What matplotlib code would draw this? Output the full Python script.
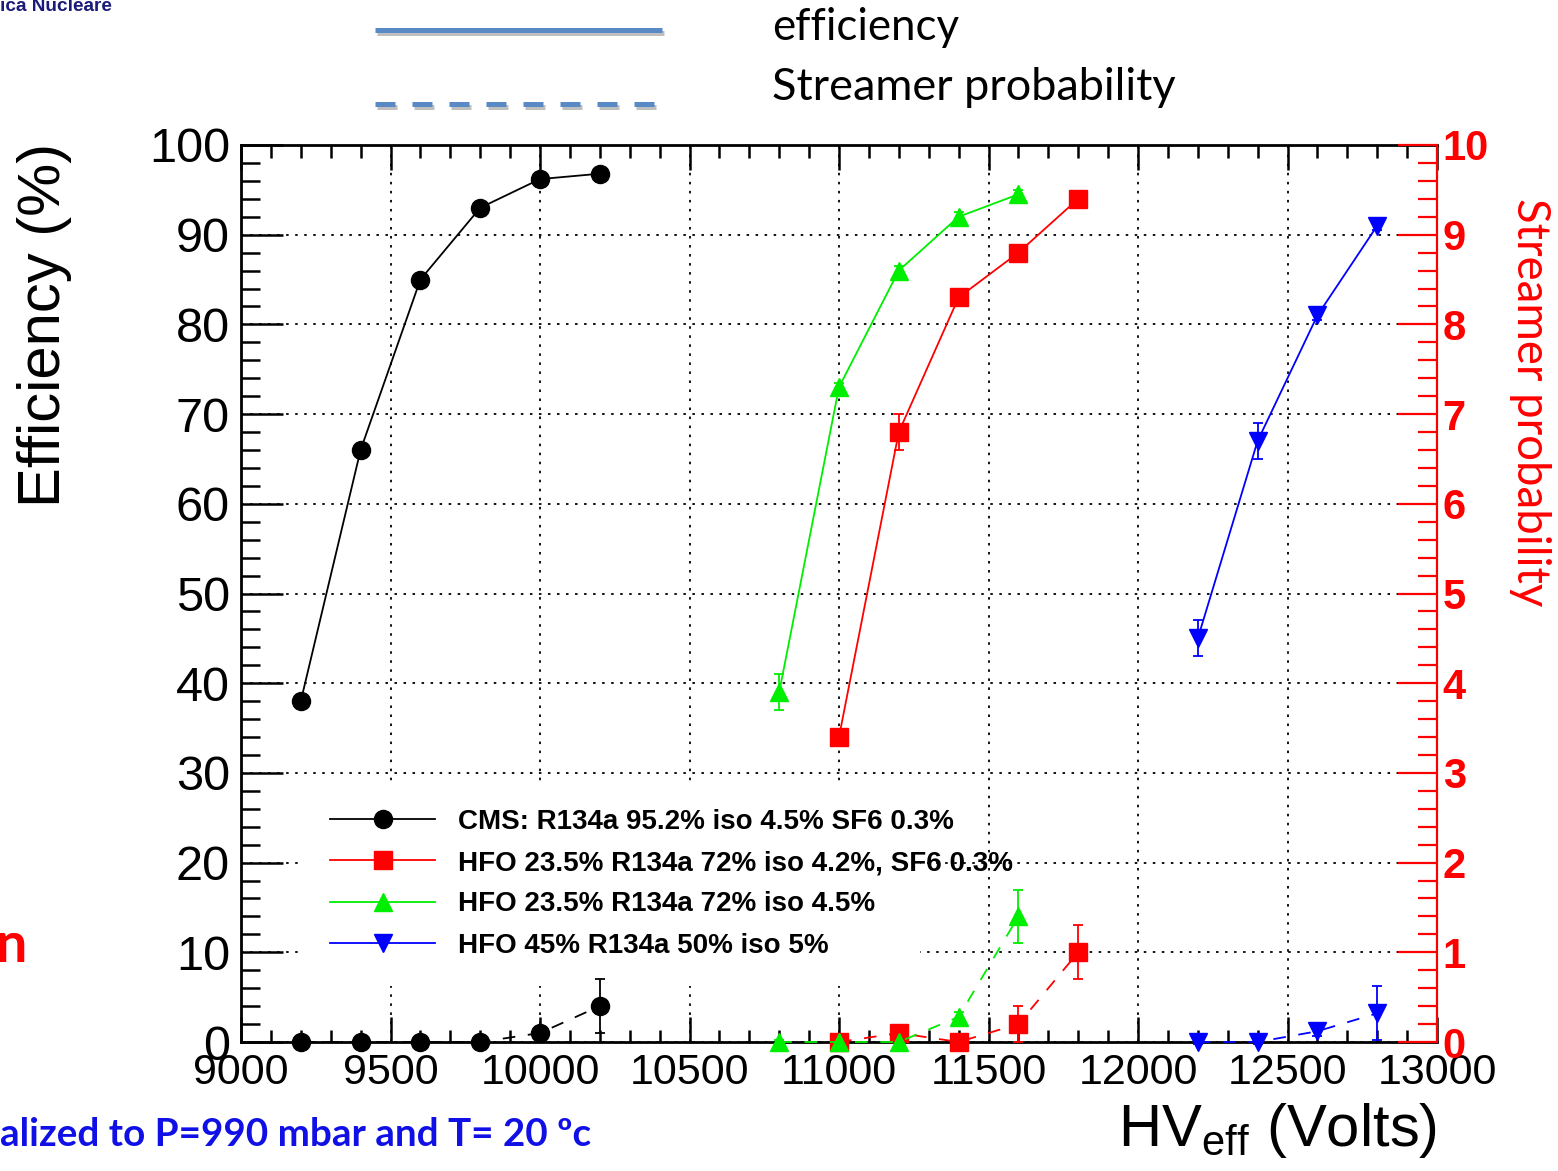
import matplotlib

matplotlib.use("Agg")
import matplotlib.patheffects as pe
import matplotlib.pyplot as plt
from matplotlib.lines import Line2D
from matplotlib.ticker import MultipleLocator

plt.rcParams["font.family"] = ["Liberation Sans", "DejaVu Sans"]
plt.rcParams["mathtext.default"] = "regular"

W, H = 1558, 1171

# HV scan, efficiency (%) and streamer probability (right axis units)
hv_cms = [9200, 9400, 9600, 9800, 10000, 10200]
eff_cms = [38.0, 66.0, 85.0, 93.0, 96.2, 96.8]
eff_cms_err = [0.5, 0.5, 0.5, 0.5, 0.3, 0.3]
str_cms = [0.0, 0.0, 0.0, 0.0, 0.1, 0.4]
str_cms_err = [0.02, 0.02, 0.02, 0.02, 0.05, 0.3]

hv_red = [11000, 11200, 11400, 11600, 11800]
eff_red = [34.0, 68.0, 83.0, 88.0, 94.0]
eff_red_err = [0.5, 2.0, 0.5, 0.5, 0.5]
str_red = [0.0, 0.1, 0.0, 0.2, 1.0]
str_red_err = [0.02, 0.05, 0.02, 0.2, 0.3]

hv_green = [10800, 11000, 11200, 11400, 11600]
eff_green = [39.0, 73.0, 86.0, 92.0, 94.5]
eff_green_err = [2.0, 0.5, 0.5, 0.5, 0.5]
str_green = [0.0, 0.0, 0.0, 0.28, 1.4]
str_green_err = [0.02, 0.02, 0.02, 0.05, 0.3]

hv_blue = [12200, 12400, 12600, 12800]
eff_blue = [45.0, 67.0, 81.0, 91.0]
eff_blue_err = [2.0, 2.0, 0.5, 0.5]
str_blue = [0.0, 0.0, 0.12, 0.32]
str_blue_err = [0.02, 0.02, 0.05, 0.3]

labels = [
    "CMS: R134a 95.2% iso 4.5% SF6 0.3%",
    "HFO 23.5% R134a 72% iso 4.2%, SF6 0.3%",
    "HFO 23.5% R134a 72% iso 4.5%",
    "HFO 45% R134a 50% iso 5%",
]
colors = ["black", "#ff0000", "#00ee00", "#0000ff"]
markers = ["o", "s", "^", "v"]

series = [
    (hv_cms, eff_cms, eff_cms_err, str_cms, str_cms_err),
    (hv_red, eff_red, eff_red_err, str_red, str_red_err),
    (hv_green, eff_green, eff_green_err, str_green, str_green_err),
    (hv_blue, eff_blue, eff_blue_err, str_blue, str_blue_err),
]


def fx(px):
    return px / W


def fy(py):
    return 1 - py / H


fig = plt.figure(figsize=(W / 100, H / 100), dpi=100)
ax = fig.add_axes([fx(241), fy(1042), 1196 / W, 897 / H])
ax2 = ax.twinx()

ax.set_xlim(9000, 13000)
ax.set_ylim(0, 100)
ax2.set_ylim(0, 10)

# main axes: frame, ticks, dotted grid
ax.set_axisbelow(True)
for side in ["left", "bottom", "top"]:
    ax.spines[side].set_linewidth(2.0)
ax.spines["right"].set_visible(False)
ax.xaxis.set_major_locator(MultipleLocator(500))
ax.xaxis.set_minor_locator(MultipleLocator(100))
ax.yaxis.set_major_locator(MultipleLocator(10))
ax.yaxis.set_minor_locator(MultipleLocator(2))
ax.tick_params(axis="x", which="both", direction="in", top=True, bottom=True,
               width=1.8, labelsize=31, pad=8)
ax.tick_params(axis="x", which="major", length=18)
ax.tick_params(axis="x", which="minor", length=9)
ax.tick_params(axis="y", which="both", direction="in", left=True, right=False,
               width=1.8, labelsize=35, pad=8)
ax.tick_params(axis="y", which="major", length=30)
ax.tick_params(axis="y", which="minor", length=14)
ax.grid(True, which="major", color="black", lw=1.3, ls=(0, (1.4, 3.6)))

# right axis for streamer probability
for side in ["left", "bottom", "top"]:
    ax2.spines[side].set_visible(False)
ax2.spines["right"].set_color("#ff0000")
ax2.spines["right"].set_linewidth(1.6)
ax2.yaxis.set_major_locator(MultipleLocator(1))
ax2.yaxis.set_minor_locator(MultipleLocator(0.2))
ax2.tick_params(axis="y", which="both", direction="in", color="#ff0000",
                labelcolor="#ff0000", width=1.6, labelsize=30, pad=4)
ax2.tick_params(axis="y", which="major", length=28)
ax2.tick_params(axis="y", which="minor", length=14)
for t in ax2.get_yticklabels():
    t.set_fontweight("bold")

handles = []
for (hv, eff, eff_err, strm, strm_err), lab, c, m in zip(series, labels, colors, markers):
    ax.errorbar(hv, eff, yerr=eff_err, fmt="none", ecolor=c, elinewidth=1.3,
                capsize=3.5, capthick=1.3, zorder=3)
    ln, = ax.plot(hv, eff, color=c, lw=1.3, marker=m, ms=13, mec=c, mfc=c,
                  label=lab, zorder=4)
    handles.append(ln)
    ax2.errorbar(hv, strm, yerr=strm_err, fmt="none", ecolor=c, elinewidth=1.3,
                 capsize=3.5, capthick=1.3, zorder=3, clip_on=False)
    ax2.plot(hv, strm, color=c, lw=1.3, ls=(0, (7, 7)), marker=m, ms=13,
             mec=c, mfc=c, zorder=4, clip_on=False)

leg = ax.legend(handles=handles, loc="upper left", mode="expand",
                bbox_to_anchor=((302 - 241) / 1196, (1042 - 781) / 897,
                                (920 - 302) / 1196, 0.0),
                prop={"weight": "bold", "size": 20}, frameon=True,
                facecolor="white", edgecolor="none", framealpha=1.0,
                fancybox=False, handlelength=3.8, handletextpad=0.83,
                labelspacing=0.55, borderpad=1.0, borderaxespad=0.0)
leg.set_zorder(2.5)

# axis titles
fig.text(fx(45), fy(325), "Efficiency (%)", rotation=90, ha="center",
         va="center", fontsize=43)
fig.text(fx(1437), fy(1146), r"HV$_{eff}$ (Volts)", ha="right",
         va="baseline", fontsize=43)
fig.text(fx(1530), fy(402), "Streamer probability", rotation=-90,
         ha="center", va="center", fontsize=32.8, color="#ff0000",
         family="Lato")

# line style key above the frame
key_color = "#5a8ac6"
shadow = [pe.SimpleLineShadow(offset=(1.5, -2.5), alpha=0.25), pe.Normal()]
fig.add_artist(Line2D([fx(375), fx(662)], [fy(30), fy(30)], color=key_color,
                      lw=3.6, solid_capstyle="butt", path_effects=shadow))
fig.add_artist(Line2D([fx(375), fx(662)], [fy(104), fy(104)], color=key_color,
                      lw=3.6, ls=(0, (4, 3.4)), dash_capstyle="butt",
                      path_effects=shadow))
fig.text(fx(772), fy(28), "efficiency", ha="left", va="center", fontsize=31.5,
         family="Lato")
fig.text(fx(772), fy(88), "Streamer probability", ha="left", va="center",
         fontsize=32.5, family="Lato")

# slide texts around the plot
fig.text(0, 1 + 2 / H, "ica Nucleare", ha="left", va="top", fontsize=13.7,
         fontweight="bold", color="#1a1a7a")
fig.text(-0.003, fy(946), "n", ha="left", va="center", fontsize=40,
         fontweight="bold", color="#ff0000", family="Lato")
fig.text(0, fy(1134), "alized to P=990 mbar and T= 20 ºc", ha="left",
         va="center", fontsize=27.8, fontweight="bold", color="#1010e6",
         family="Lato")

fig.savefig("out.png", dpi=100)
